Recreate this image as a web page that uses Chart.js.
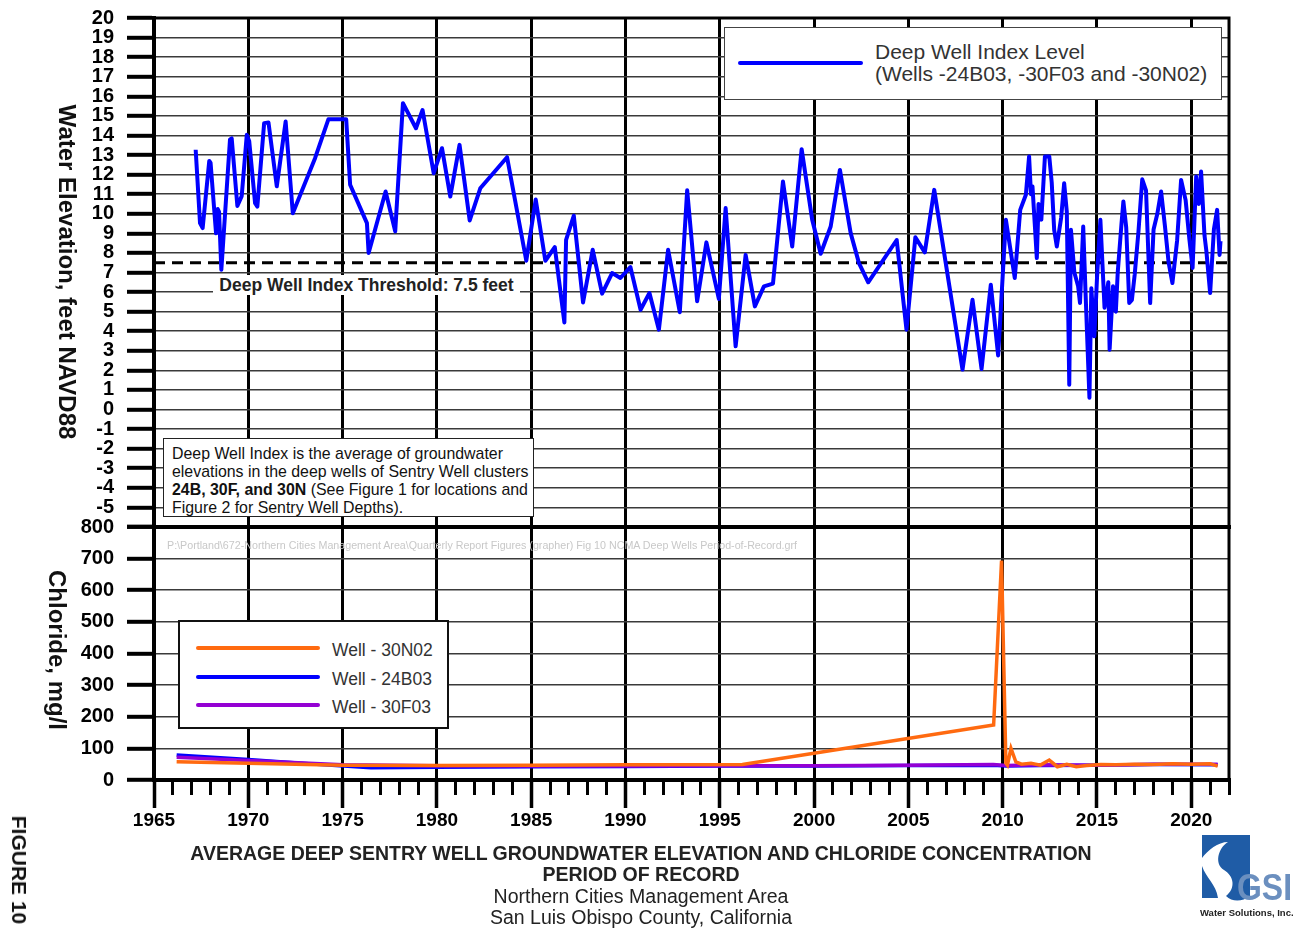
<!DOCTYPE html>
<html>
<head>
<meta charset="utf-8">
<title>Average Deep Sentry Well Groundwater Elevation and Chloride Concentration</title>
<script src="https://cdn.jsdelivr.net/npm/chart.js@4.4.1/dist/chart.umd.min.js"></script>
<style>
  body { margin: 0; width: 1301px; height: 929px; background: #fff; position: relative; overflow: hidden;
         font-family: "Liberation Sans", Arial, sans-serif; color: #222; }
  .wrap { position: absolute; left: 0; width: 1301px; }
  /* tick label padding reserves 25px above/below each plot, so the canvases are offset by that much */
  #topWrap { top: -7px; height: 559px; }
  #botWrap { top: 502px; height: 348px; }
  .box { position: absolute; background: #fff; z-index: 5; }
  .vtext { position: absolute; white-space: nowrap; transform: translate(-50%, -50%) rotate(90deg); font-weight: bold; color: #111; z-index: 5; }
  .swatch { position: absolute; height: 4px; border-radius: 2px; }
  .title { position: absolute; left: 0; width: 1282px; text-align: center; font-size: 19.5px; color: #222; z-index: 5; }
</style>
</head>
<body>
<div class="wrap" id="topWrap"><canvas id="elevChart"></canvas></div>
<div class="wrap" id="botWrap"><canvas id="chlorChart"></canvas></div>

<div class="vtext" style="left:67px; top:272px; font-size:24px;">Water Elevation, feet NAVD88</div>
<div class="vtext" style="left:57px; top:650px; font-size:24px;">Chloride, mg/l</div>

<!-- legend, upper chart -->
<div class="box" style="left:724px; top:27px; width:496px; height:71px; border:1.5px solid #444;">
  <div class="swatch" style="left:13px; top:33px; width:125px; background:#0000ff;"></div>
  <div style="position:absolute; left:150px; top:13px; font-size:21px; line-height:22px; color:#333; white-space:nowrap;">Deep Well Index Level<br>(Wells -24B03, -30F03 and -30N02)</div>
</div>

<!-- threshold label -->
<div class="box" style="left:213px; top:275px; width:307px; height:20px; text-align:center; font-weight:bold; font-size:17.5px; line-height:20px; color:#222; white-space:nowrap;">Deep Well Index Threshold: 7.5 feet</div>

<!-- note box -->
<div class="box" style="left:163px; top:438px; width:369px; height:77px; border:1.5px solid #222;">
  <div style="position:absolute; left:8px; top:6px; font-size:15.9px; line-height:18px; color:#111; white-space:nowrap;">Deep Well Index is the average of groundwater<br>elevations in the deep wells of Sentry Well clusters<br><b>24B, 30F, and 30N</b> (See Figure 1 for locations and<br>Figure 2 for Sentry Well Depths).</div>
</div>

<!-- file path -->
<div style="position:absolute; left:167px; top:539px; font-size:10.7px; color:#c8c8c8; white-space:nowrap; z-index:5;">P:\Portland\672-Northern Cities Management Area\Quarterly Report Figures (grapher) Fig 10 NCMA Deep Wells Period-of-Record.grf</div>

<!-- legend, lower chart -->
<div class="box" style="left:178px; top:620px; width:267px; height:105px; border:2px solid #111;">
  <div class="swatch" style="left:16px; top:24px; width:124px; background:#ff6a10;"></div>
  <div class="swatch" style="left:16px; top:53px; width:124px; background:#0000ff;"></div>
  <div class="swatch" style="left:16px; top:81px; width:124px; background:#9400d3;"></div>
  <div style="position:absolute; left:152px; top:14px; font-size:17.5px; line-height:28.5px; color:#333; white-space:nowrap;">Well - 30N02<br>Well - 24B03<br>Well - 30F03</div>
</div>

<div class="title" style="top:842px; font-weight:bold;">AVERAGE DEEP SENTRY WELL GROUNDWATER ELEVATION AND CHLORIDE CONCENTRATION</div>
<div class="title" style="top:863px; font-weight:bold;">PERIOD OF RECORD</div>
<div class="title" style="top:885px;">Northern Cities Management Area</div>
<div class="title" style="top:906px;">San Luis Obispo County, California</div>

<div class="vtext" style="left:19px; top:870px; font-size:21px;">FIGURE 10</div>

<svg style="position:absolute; left:1196px; top:832px; z-index:5;" width="104" height="94">
  <path d="M6 3 H54 V64 C46 70 36 70 30 64 C40 56 38 44 28 38 C18 32 22 16 32 10 C22 10 12 18 6 26 Z" fill="#1f5ca6"/>
  <path d="M6 34 C10 46 20 52 22 66 L6 66 Z" fill="#1f5ca6"/>
  <text x="41" y="68" font-family="Liberation Sans Narrow, Liberation Sans, Arial" font-weight="bold" font-size="36" textLength="55" lengthAdjust="spacingAndGlyphs" fill="#6b8fbf">GSI</text>
  <text x="4" y="84" font-family="Liberation Sans Narrow, Liberation Sans, Arial" font-weight="bold" font-size="9.5" fill="#222">Water Solutions, Inc.</text>
</svg>

<script>
// x range and ticks
const yearRange = [1965, 2022];
const yearStep = 5;
const elevationRange = [-6, 20];
const chlorideRange = [0, 800];

// Deep Well Index Level (feet NAVD88)
const dwiYears = [
  1967.21, 1967.44, 1967.58, 1967.93, 1968.0, 1968.29, 1968.38, 1968.45, 1968.57, 1969.03,
  1969.12, 1969.42, 1969.65, 1969.92, 1970.05, 1970.36, 1970.48, 1970.84, 1971.07, 1971.51,
  1971.98, 1972.36, 1973.54, 1974.25, 1975.19, 1975.40, 1976.29, 1976.38, 1977.28, 1977.79,
  1978.2, 1978.89, 1979.24, 1979.83, 1980.27, 1980.71, 1981.2, 1981.74, 1982.3, 1983.72,
  1984.74, 1985.24, 1985.75, 1986.25, 1986.76, 1986.85, 1987.26, 1987.75, 1988.26, 1988.76,
  1989.29, 1989.73, 1990.26, 1990.8, 1991.27, 1991.77, 1992.26, 1992.88, 1993.27, 1993.8,
  1994.29, 1994.95, 1995.31, 1995.84, 1996.37, 1996.86, 1997.34, 1997.82, 1998.35, 1998.84,
  1999.34, 1999.9, 2000.35, 2000.88, 2001.37, 2001.94, 2002.38, 2002.87, 2004.38, 2004.9,
  2005.37, 2005.87, 2006.37, 2007.87, 2008.4, 2008.88, 2009.37, 2009.76, 2010.17, 2010.64,
  2010.93, 2011.23, 2011.4, 2011.5, 2011.58, 2011.7, 2011.81, 2011.9, 2012.05, 2012.24,
  2012.47, 2012.6, 2012.73, 2012.87, 2013.1, 2013.26, 2013.4, 2013.53, 2013.62, 2013.8,
  2014.0, 2014.1, 2014.27, 2014.4, 2014.6, 2014.7, 2014.86, 2015.0, 2015.18, 2015.4,
  2015.6, 2015.67, 2015.85, 2016.0, 2016.1, 2016.3, 2016.4, 2016.55, 2016.71, 2016.85,
  2017.0, 2017.2, 2017.4, 2017.6, 2017.82, 2018.0, 2018.2, 2018.4, 2018.6, 2018.8,
  2019.0, 2019.25, 2019.46, 2019.7, 2019.9, 2020.07, 2020.26, 2020.4, 2020.52, 2020.7,
  2020.8, 2021.0, 2021.2, 2021.37, 2021.5, 2021.55
];
const dwiLevels = [
  13.27, 9.52, 9.27, 12.7, 12.6, 9.0, 10.24, 10.1, 7.14, 13.8,
  13.85, 10.4, 10.9, 14.03, 13.7, 10.54, 10.37, 14.63, 14.66, 11.4,
  14.71, 10.03, 12.84, 14.83, 14.83, 11.48, 9.52, 8.0, 11.14, 9.1,
  15.65, 14.37, 15.3, 12.07, 13.35, 10.88, 13.52, 9.66, 11.3, 12.89,
  7.6, 10.73, 7.6, 8.3, 4.45, 8.67, 9.9, 5.47, 8.16, 5.92,
  6.97, 6.72, 7.28, 5.1, 5.95, 4.08, 8.16, 4.97, 11.2, 5.53,
  8.54, 5.65, 10.29, 3.23, 7.9, 5.27, 6.29, 6.43, 11.65, 8.33,
  13.3, 9.69, 7.96, 9.35, 12.24, 9.01, 7.48, 6.5, 8.66, 4.08,
  8.8, 8.03, 11.22, 2.04, 5.61, 2.07, 6.38, 2.76, 9.69, 6.72,
  10.2, 10.97, 12.93, 11.0, 11.4, 9.5, 7.74, 10.5, 9.7, 12.93,
  12.93, 11.6, 9.18, 8.33, 9.8, 11.56, 10.1, 1.27, 9.18, 7.0,
  6.3, 5.44, 9.35, 5.8, 0.6, 6.2, 3.74, 6.7, 9.69, 5.2,
  6.5, 3.06, 6.3, 5.0, 7.0, 9.5, 10.63, 9.3, 5.44, 5.6,
  6.9, 9.1, 11.76, 11.2, 5.44, 9.2, 10.0, 11.14, 9.4, 7.5,
  6.46, 8.65, 11.73, 10.7, 8.7, 7.23, 11.9, 10.5, 12.16, 8.9,
  8.1, 5.95, 9.2, 10.2, 7.9, 8.6
];
const thresholdLevel = 7.5;

// Chloride, mg/l
const years30N02 = [1966.2, 1970, 1975, 1980, 1985, 1990, 1996.2, 2009.52, 2009.94, 2010.17,
  2010.25, 2010.44, 2010.7, 2011.0, 2011.5, 2012.0, 2012.47, 2012.9, 2013.4, 2013.9,
  2014.45, 2015.2, 2016, 2017, 2018, 2019, 2020, 2021, 2021.4];
const chloride30N02 = [58, 53, 47, 46, 47, 48, 49, 174, 694, 53,
  47, 100, 57, 50, 53, 47, 63, 42, 50, 42,
  46, 49, 48, 50, 49, 51, 50, 51, 44];
const years24B03 = [1966.2, 1970, 1973, 1976.5, 1980, 1985, 1990, 1995, 2000, 2005, 2009.5, 2010.2, 2012, 2015, 2018, 2021.4];
const chloride24B03 = [79, 65, 52, 39, 40, 42, 43, 44, 44, 46, 47, 44, 46, 47, 49, 48];
const years30F03 = [1966.2, 1970, 1975, 1980, 1985, 1990, 1995, 2000, 2005, 2009.5, 2010.2, 2012, 2015, 2018, 2021.4];
const chloride30F03 = [72, 62, 48, 45, 44, 44, 45, 45, 47, 49, 46, 48, 47, 50, 50];

function toPoints(xs, ys) {
  return xs.map((x, i) => ({ x: x, y: ys[i] }));
}

Chart.defaults.font.family = '"Liberation Sans", Arial, sans-serif';
Chart.defaults.color = '#000';

// outline round the plot area
const frame = {
  id: 'frame',
  afterDatasetsDraw(chart) {
    const { ctx, chartArea: a } = chart;
    ctx.save();
    ctx.strokeStyle = '#000';
    ctx.lineWidth = 3;
    ctx.strokeRect(a.left, a.top, a.right - a.left, a.bottom - a.top);
    ctx.restore();
  }
};

const tickFont = { size: 20, weight: 'bold' };

new Chart(document.getElementById('elevChart'), {
  type: 'line',
  data: {
    datasets: [{
      label: 'Deep Well Index Level',
      data: toPoints(dwiYears, dwiLevels),
      borderColor: '#0000ff',
      borderWidth: 4,
      pointRadius: 0,
      tension: 0,
      borderJoinStyle: 'round'
    }, {
      label: 'Deep Well Index Threshold',
      data: toPoints(yearRange, [thresholdLevel, thresholdLevel]),
      borderColor: '#000',
      borderWidth: 3,
      borderDash: [11, 7],
      pointRadius: 0
    }]
  },
  options: {
    responsive: true,
    maintainAspectRatio: false,
    animation: false,
    layout: { padding: { top: 0, right: 72, left: 0, bottom: 0 } },
    plugins: { legend: { display: false }, tooltip: { enabled: false } },
    scales: {
      x: {
        type: 'linear',
        min: yearRange[0],
        max: yearRange[1],
        ticks: { stepSize: yearStep, display: false, includeBounds: false, autoSkip: false },
        grid: { color: '#000', lineWidth: 3, drawTicks: false },
        border: { color: '#000', width: 4 },
        afterFit: (s) => { s.height = 13; }
      },
      y: {
        min: elevationRange[0],
        max: elevationRange[1],
        ticks: {
          stepSize: 1,
          autoSkip: false,
          padding: 13,
          font: tickFont,
          callback: (v) => (v < -5 ? '' : String(v))
        },
        grid: { color: '#3a3a3a', lineWidth: 1.6, tickColor: '#000', tickWidth: 4, tickLength: 27 },
        border: { color: '#000', width: 4 },
        afterFit: (s) => { s.width = 154; }
      }
    }
  },
  plugins: [frame]
});

new Chart(document.getElementById('chlorChart'), {
  type: 'line',
  data: {
    datasets: [{
      label: 'Well - 30N02',
      data: toPoints(years30N02, chloride30N02),
      borderColor: '#ff6a10',
      borderWidth: 3.5,
      pointRadius: 0,
      tension: 0
    }, {
      label: 'Well - 30F03',
      data: toPoints(years30F03, chloride30F03),
      borderColor: '#9400d3',
      borderWidth: 3.5,
      pointRadius: 0,
      tension: 0
    }, {
      label: 'Well - 24B03',
      data: toPoints(years24B03, chloride24B03),
      borderColor: '#0000ff',
      borderWidth: 3.5,
      pointRadius: 0,
      tension: 0
    }]
  },
  options: {
    responsive: true,
    maintainAspectRatio: false,
    animation: false,
    layout: { padding: { top: 0, right: 72, left: 0, bottom: 0 } },
    plugins: { legend: { display: false }, tooltip: { enabled: false } },
    scales: {
      x: {
        type: 'linear',
        position: 'bottom',
        weight: 1,
        min: yearRange[0],
        max: yearRange[1],
        ticks: {
          stepSize: yearStep,
          includeBounds: false,
          autoSkip: false,
          maxRotation: 0,
          padding: 1,
          font: { size: 19, weight: 'bold' },
          callback: (v) => String(v)
        },
        grid: { color: '#000', lineWidth: 3, tickColor: '#000', tickWidth: 3.5, tickLength: 28 },
        border: { color: '#000', width: 4 },
        afterFit: (s) => { s.height = 70; }
      },
      xMinor: {
        type: 'linear',
        position: 'bottom',
        weight: 0,
        min: yearRange[0],
        max: yearRange[1],
        ticks: { stepSize: 1, display: false, autoSkip: false },
        grid: { drawOnChartArea: false, tickColor: '#000', tickWidth: 3, tickLength: 15 },
        border: { display: false },
        afterFit: (s) => { s.height = 0; }
      },
      y: {
        min: chlorideRange[0],
        max: chlorideRange[1],
        ticks: {
          stepSize: 100,
          autoSkip: false,
          padding: 13,
          font: tickFont,
          callback: (v) => String(v)
        },
        grid: { color: '#3a3a3a', lineWidth: 1.6, tickColor: '#000', tickWidth: 4, tickLength: 27 },
        border: { color: '#000', width: 4 },
        afterFit: (s) => { s.width = 154; }
      }
    }
  },
  plugins: [frame]
});
</script>
</body>
</html>
